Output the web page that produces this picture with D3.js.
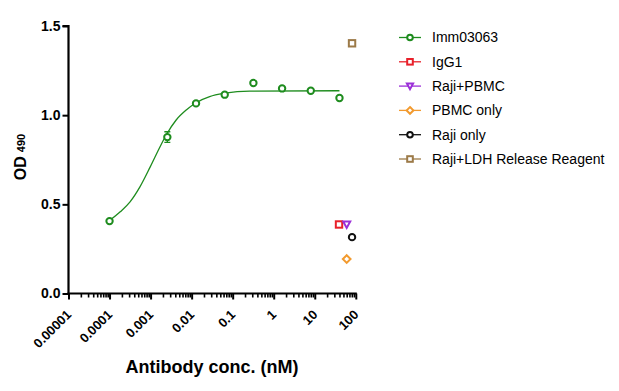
<!DOCTYPE html>
<html><head><meta charset="utf-8">
<script src="https://cdn.jsdelivr.net/npm/d3@7"></script>
<style>body{margin:0;background:#fff}svg{display:block}text{font-family:"Liberation Sans",Arial,sans-serif}</style>
</head><body><svg id="c" width="619" height="391"></svg>
<script>
// Data
const immConc = [0.0001, 0.00256, 0.0128, 0.064, 0.32, 1.6, 8, 40];
const immOD   = [0.406, 0.877, 1.066, 1.115, 1.180, 1.150, 1.137, 1.096];
const immErr  = [0, 0.03, 0, 0, 0, 0, 0, 0];
// Fitted curve
const fitConc = [0.0001, 0.000182, 0.000316, 0.00055, 0.00098, 0.0017, 0.0024, 0.0042, 0.0074, 0.0129, 0.0275, 0.065, 0.26, 40];
const fitOD   = [0.409, 0.458, 0.514, 0.598, 0.710, 0.823, 0.889, 0.973, 1.029, 1.070, 1.104, 1.123, 1.135, 1.137];
const controlNames = ["IgG1", "Raji+PBMC", "PBMC only", "Raji only", "Raji+LDH Release Reagent"];
const controlConc  = [39, 60, 60, 81, 81];
const controlOD    = [0.387, 0.387, 0.193, 0.316, 1.403];
const legendNames  = ["Imm03063", "IgG1", "Raji+PBMC", "PBMC only", "Raji only", "Raji+LDH Release Reagent"];
const colors  = ["#1e8c1e", "#e8202a", "#9b30d8", "#f29a2e", "#111111", "#9c7a48"];
const shapes  = ["circle", "square", "triangle", "diamond", "circle", "square"];
const xTicks = [0.00001, 0.0001, 0.001, 0.01, 0.1, 1, 10, 100];
const xTickLabels = ["0.00001", "0.0001", "0.001", "0.01", "0.1", "1", "10", "100"];
const yTicks = [0, 0.5, 1.0, 1.5];

const svg = d3.select("#c");
const x = d3.scaleLog().domain([0.00001, 100]).range([68.5, 355.8]);
const y = d3.scaleLinear().domain([0, 1.5]).range([293.5, 26]);

function marker(g, shape, color, cx, cy, s) {
  if (shape === "circle") {
    g.append("circle").attr("cx", cx).attr("cy", cy).attr("r", s).attr("fill", "#fff").attr("stroke", color).attr("stroke-width", 2);
  } else if (shape === "square") {
    g.append("rect").attr("x", cx - s).attr("y", cy - s).attr("width", 2*s).attr("height", 2*s).attr("fill", "#fff").attr("stroke", color).attr("stroke-width", 2);
  } else if (shape === "triangle") {
    g.append("path").attr("d", `M${cx-s*1.1},${cy-s*0.9}L${cx+s*1.1},${cy-s*0.9}L${cx},${cy+s*1.1}Z`).attr("fill", "#fff").attr("stroke", color).attr("stroke-width", 2);
  } else if (shape === "diamond") {
    g.append("path").attr("d", `M${cx},${cy-s*1.2}L${cx+s*1.2},${cy}L${cx},${cy+s*1.2}L${cx-s*1.2},${cy}Z`).attr("fill", "#fff").attr("stroke", color).attr("stroke-width", 2);
  }
}

// Axes
const yAxis = d3.axisLeft(y).tickValues(yTicks).tickFormat(d3.format(".1f")).tickSize(6).tickPadding(2);
const gy = svg.append("g").attr("transform", `translate(${x.range()[0]},0)`).call(yAxis);
gy.select(".domain").attr("stroke", "#000").attr("stroke-width", 2.2).attr("d", `M-6,${y(1.5)}H0V${y(0)}`);
gy.selectAll(".tick line").attr("stroke", "#000").attr("stroke-width", 2);
gy.selectAll("text").attr("font-size", 14).attr("font-weight", "bold").attr("fill", "#000");

const minor = [];
for (let e = -5; e < 2; e++) for (let m = 2; m <= 9; m++) minor.push(m * Math.pow(10, e));
const gxm = svg.append("g").attr("transform", `translate(0,${y(0)})`)
  .call(d3.axisBottom(x).tickValues(minor).tickFormat("").tickSize(4));
gxm.select(".domain").remove();
gxm.selectAll(".tick line").attr("stroke", "#000").attr("stroke-width", 1.6);
const gx = svg.append("g").attr("transform", `translate(0,${y(0)})`)
  .call(d3.axisBottom(x).tickValues(xTicks).tickFormat((d, i) => xTickLabels[i]).tickSize(6));
gx.select(".domain").attr("stroke", "#000").attr("stroke-width", 2.2).attr("d", `M${x.range()[0]-1},0H${x.range()[1]+1}`);
gx.selectAll(".tick line").attr("stroke", "#000").attr("stroke-width", 2);
gx.selectAll("text").attr("font-size", 13).attr("font-weight", "bold").attr("fill", "#000")
  .attr("text-anchor", "end").attr("dy", null).attr("y", 0)
  .attr("transform", "translate(3,22) rotate(-45)");

// Axis titles
svg.append("text").attr("x", 212).attr("y", 373).attr("text-anchor", "middle")
  .attr("font-size", 18).attr("font-weight", "bold").text("Antibody conc. (nM)");
const yt = svg.append("text").attr("transform", "translate(26,157) rotate(-90)").attr("text-anchor", "middle")
  .attr("font-weight", "bold");
yt.append("tspan").attr("font-size", 16).text("OD");
yt.append("tspan").attr("font-size", 11).attr("dx", 4).attr("dy", -1).text("490");

// Fitted curve
svg.append("path").datum(fitConc.map((c, i) => [c, fitOD[i]]))
  .attr("fill", "none").attr("stroke", colors[0]).attr("stroke-width", 1.3)
  .attr("d", d3.line().x(d => x(d[0])).y(d => y(d[1])).curve(d3.curveMonotoneX));

// Error bars
immConc.forEach((c, i) => {
  if (immErr[i] > 0) {
    const cx = x(c);
    svg.append("path").attr("fill", "none").attr("stroke", colors[0]).attr("stroke-width", 1.3)
      .attr("d", `M${cx},${y(immOD[i]-immErr[i])}V${y(immOD[i]+immErr[i])}M${cx-3},${y(immOD[i]+immErr[i])}h6M${cx-3},${y(immOD[i]-immErr[i])}h6`);
  }
});

// Points
const gp = svg.append("g");
immConc.forEach((c, i) => marker(gp, shapes[0], colors[0], x(c), y(immOD[i]), 3.2));
controlConc.forEach((c, i) => marker(gp, shapes[i+1], colors[i+1], x(c), y(controlOD[i]), 3.2));

// Legend
const gl = svg.append("g");
legendNames.forEach((n, i) => {
  const cy = 37.5 + i * 24.3;
  gl.append("line").attr("x1", 399).attr("x2", 421).attr("y1", cy).attr("y2", cy).attr("stroke", colors[i]).attr("stroke-width", 1.3);
  marker(gl, shapes[i], colors[i], 410, cy, 2.8);
  gl.append("text").attr("x", 432).attr("y", cy).attr("dy", "0.35em").attr("font-size", 14).attr("fill", "#000").text(n);
});
</script></body></html>
